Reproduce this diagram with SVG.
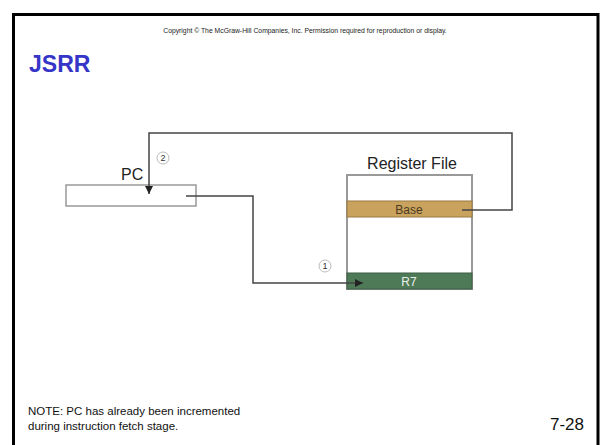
<svg xmlns="http://www.w3.org/2000/svg" width="602" height="445" viewBox="0 0 602 445">
<style>
text{font-family:"Liberation Sans",Arial,sans-serif}
.wire{fill:none;stroke:#444;stroke-width:1.5}
.circ{fill:#fff;stroke:#bbb;stroke-width:1}
.num{font-size:9px;fill:#333;text-anchor:middle}
</style>
<defs>
<marker id="ah" viewBox="0 0 10 10" refX="10" refY="5" markerWidth="8" markerHeight="8" markerUnits="userSpaceOnUse" orient="auto"><path d="M0,0 L10,5 L0,10 z" fill="#222"/></marker>
</defs>
<rect width="602" height="445" fill="#fff"/>
<path d="M13.5,445 V14.5 H598 V445" fill="none" stroke="#000" stroke-width="3"/>
<text x="305" y="33" font-size="6.8" text-anchor="middle" fill="#222">Copyright © The McGraw-Hill Companies, Inc.  Permission required for reproduction or display.</text>
<text x="29" y="72" font-size="23" font-weight="bold" fill="#3535c8">JSRR</text>
<g id="pc">
<text x="121" y="180" font-size="16" fill="#222">PC</text>
<rect x="66" y="185" width="130" height="21" fill="#fff" stroke="#999" stroke-width="1.5"/>
</g>
<g id="regfile">
<text x="412" y="169" font-size="16" fill="#222" text-anchor="middle">Register File</text>
<rect x="347" y="175" width="125" height="114" fill="#fff" stroke="#999" stroke-width="2"/>
<rect x="347" y="201" width="125" height="16" fill="#c9a25e" stroke="#9a7a40" stroke-width="1"/>
<text x="409" y="213.5" font-size="12" fill="#4a3a20" text-anchor="middle">Base</text>
<rect x="347" y="273" width="125" height="16" fill="#4f7a58" stroke="#3d5e44" stroke-width="1"/>
<text x="409" y="285.5" font-size="12" fill="#e8efe8" text-anchor="middle">R7</text>
</g>
<g id="connectors">
<path class="wire" d="M462,210 H512 V133 H149 V194" marker-end="url(#ah)"/>
<path class="wire" d="M186,196 H253 V283 H363" marker-end="url(#ah)"/>
</g>
<g id="step2"><circle class="circ" cx="163" cy="158" r="6"/><text class="num" x="163" y="161">2</text></g>
<g id="step1"><circle class="circ" cx="325" cy="266" r="6"/><text class="num" x="325" y="269">1</text></g>
<text x="28" y="415" font-size="11.5" fill="#111">NOTE: PC has already been incremented</text>
<text x="28" y="430" font-size="11.5" fill="#111">during instruction fetch stage.</text>
<text x="584" y="430" font-size="17" fill="#111" text-anchor="end">7-28</text>
</svg>
